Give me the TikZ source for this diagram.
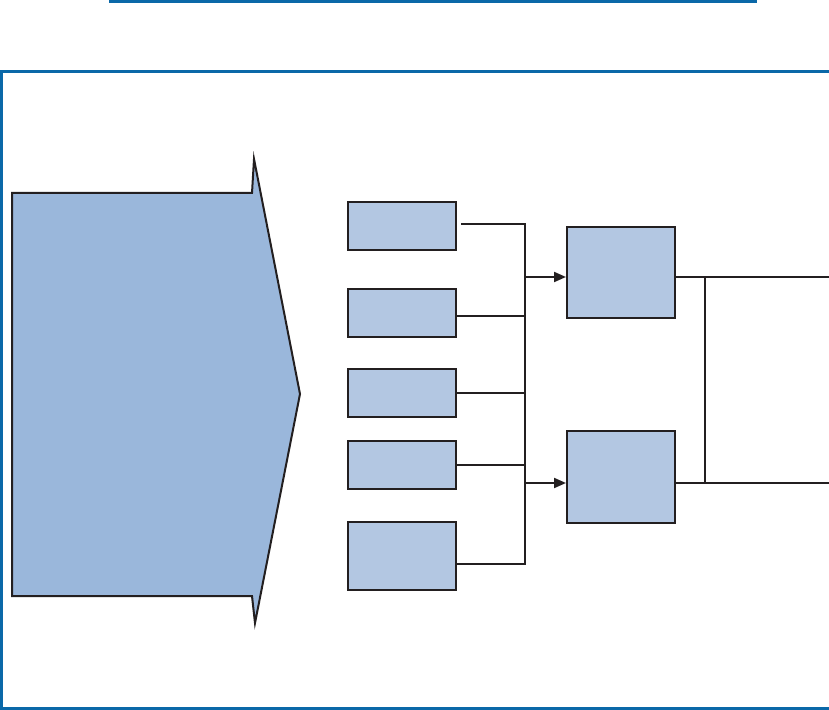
\documentclass[tikz,border=0pt]{standalone}
\usepackage{xcolor}
\usepackage{tikz}
\usetikzlibrary{arrows.meta, positioning}

\definecolor{frameblue}{RGB}{10,104,168}
\definecolor{arrowfill}{RGB}{154,183,219}
\definecolor{boxfill}{RGB}{179,199,226}
\definecolor{lineblack}{RGB}{35,31,32}

\begin{document}
\begin{tikzpicture}[
    x=0.5pt, y=-0.5pt,
    srcbox/.style={rectangle, draw=lineblack, line width=1pt, fill=boxfill,
                   minimum width=54pt, minimum height=24pt, inner sep=0pt},
    mixbox/.style={rectangle, draw=lineblack, line width=1pt, fill=boxfill,
                   minimum width=54pt, minimum height=46pt, inner sep=0pt},
    wire/.style={draw=lineblack, line width=1pt},
    arr/.style={wire, -{Triangle[length=6pt, width=5pt]}},
    rule/.style={draw=frameblue, line width=1.5pt},
]
\useasboundingbox (0,0) rectangle (829,710);

% Top rule and open frame
\draw[rule] (109,2) -- (757,2);
\draw[rule] (835,72) -- (1,72) -- (1,708.5) -- (835,708.5);

% Big input arrow
\coordinate (a_tl) at (12,193);
\coordinate (a_bl) at (12,596);
\draw[draw=lineblack, line width=1pt, fill=arrowfill, line join=miter]
    (a_tl) -- (252,193) -- (254,159) -- (300,394) -- (255,623)
    -- (252,596) -- (a_bl) -- cycle;

% Left column of boxes
\node[srcbox] (s1) at (402,226) {};
\node[srcbox] (s2) at (402,313) {};
\node[srcbox] (s3) at (402,393) {};
\node[srcbox] (s4) at (402,465) {};
\node[srcbox, minimum height=34pt] (s5) at (402,556) {};

% Right column of boxes
\node[mixbox, minimum height=45.5pt] (ma) at (621,272.5) {};
\node[mixbox] (mb) at (621,477) {};

% Bus collecting the left column
\coordinate (bus_top) at (525,224);
\coordinate (bus_bot) at (525,564);
\coordinate (bus_a) at (525,277);
\coordinate (bus_b) at (525,483);
\draw[wire] ([xshift=2pt, yshift=1pt]s1.east) -- (bus_top) -- (bus_bot)
    -- ([yshift=-4pt]s5.east);
\draw[wire] ([yshift=-1.5pt]s2.east) -- ([yshift=-1.5pt]s2.east -| bus_top);
\draw[wire] (s3.east) -- (s3.east -| bus_top);
\draw[wire] (s4.east) -- (s4.east -| bus_top);
\draw[arr] (bus_a) -- (bus_a -| ma.west);
\draw[arr] (bus_b) -- (bus_b -| mb.west);

% Outputs on the right
\coordinate (out_a) at (835,277);
\coordinate (out_b) at (835,483);
\coordinate (tie_a) at (705,277);
\coordinate (tie_b) at (705,483);
\draw[wire] (out_a -| ma.east) -- (out_a);
\draw[wire] (out_b -| mb.east) -- (out_b);
\draw[wire] (tie_a) -- (tie_b);

\end{tikzpicture}
\end{document}
